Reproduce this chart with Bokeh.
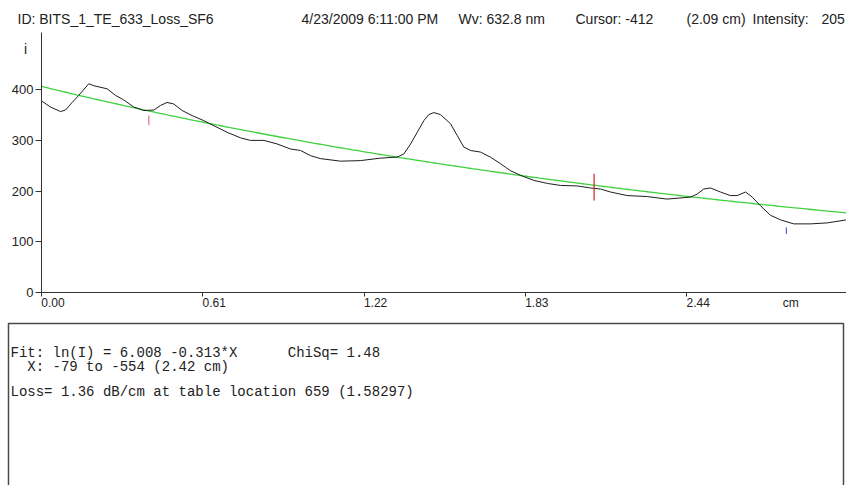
import numpy as np
from bokeh.plotting import figure
from bokeh.models import Range1d, FixedTicker, LinearAxis
from bokeh.core.properties import value
from bokeh.embed import file_html
from bokeh.resources import INLINE

# Measured intensity profile along the waveguide (position in cm, intensity in counts)
position_cm = [0.000, 0.000, 0.034, 0.072, 0.091, 0.116, 0.141, 0.179, 0.198, 0.248,
               0.280, 0.311, 0.349, 0.387, 0.425, 0.450, 0.475, 0.500, 0.532, 0.570,
               0.614, 0.652, 0.702, 0.753, 0.790, 0.841, 0.891, 0.942, 0.980, 1.017,
               1.055, 1.131, 1.206, 1.282, 1.345, 1.370, 1.396, 1.421, 1.446, 1.465,
               1.484, 1.509, 1.547, 1.572, 1.597, 1.623, 1.660, 1.698, 1.736, 1.774,
               1.812, 1.862, 1.913, 1.963, 2.026, 2.076, 2.114, 2.152, 2.215, 2.291,
               2.366, 2.455, 2.480, 2.505, 2.530, 2.568, 2.605, 2.631, 2.663, 2.688,
               2.719, 2.757, 2.795, 2.845, 2.908, 2.972, 3.045]
intensity = [190, 378, 366, 357, 360, 375, 389, 412, 408, 402,
             389, 380, 366, 359, 360, 369, 375, 372, 359, 349,
             339, 329, 316, 305, 300, 300, 293, 283, 280, 270,
             264, 259, 260, 265, 267, 273, 293, 316, 339, 351,
             355, 351, 333, 310, 287, 280, 277, 267, 254, 240,
             231, 221, 215, 211, 210, 206, 204, 198, 191, 189,
             184, 188, 194, 204, 206, 198, 191, 191, 198, 188,
             171, 152, 143, 135, 135, 137, 143]

# Exponential fit ln(I) = A + B*x
FIT_A = 6.008
FIT_B = -0.313
CHI_SQ = 1.48

# Fit range markers (cm) and cursor
range_start_cm = 0.406
range_end_cm = 2.817
cursor_cm = 2.09
cursor_intensity = 205

x_tick_values = [0.0, 0.61, 1.22, 1.83, 2.44]
x_tick_labels = ["0.00", "0.61", "1.22", "1.83", "2.44"]
unit_tick = 2.79
y_tick_values = [0, 100, 200, 300, 400]

header_texts = ["ID: BITS_1_TE_633_Loss_SF6", "4/23/2009 6:11:00 PM", "Wv: 632.8 nm",
                "Cursor: -412", "(2.09 cm)", "Intensity:", "205"]
result_lines = ["Fit: ln(I) = %.3f %.3f*X      ChiSq= %.2f" % (FIT_A, FIT_B, CHI_SQ),
                "  X: -79 to -554 (2.42 cm)",
                "",
                "Loss= 1.36 dB/cm at table location 659 (1.58297)"]

# ---- page geometry (pixels) and the conversion into data space ----
W, H = 846, 485
PX_PER_CM = 264.4
PX_PER_COUNT = 0.506
ORIGIN_X, ORIGIN_Y = 41, 291.7


def to_x(px):
    return (px - ORIGIN_X) / PX_PER_CM


def to_y(py):
    return (ORIGIN_Y - py) / PX_PER_COUNT


X_MAX = to_x(W)
Y_TOP = to_y(32)
LABEL_SHIFT = 11.5 / PX_PER_CM  # tick labels start at their tick

SANS = "Liberation Sans"
MONO = "Liberation Mono"
TXT = "#222222"
AXIS = "#333333"

p = figure(width=W, height=H, x_range=Range1d(to_x(0), to_x(W)), y_range=Range1d(to_y(H), to_y(0)),
           output_backend="svg", toolbar_location=None,
           min_border=0, min_border_left=0, min_border_right=0, min_border_top=0, min_border_bottom=0)
p.background_fill_color = "white"
p.border_fill_color = "white"
p.outline_line_color = None
p.xgrid.visible = False
p.ygrid.visible = False

# y axis drawn at x = 0
yax = p.yaxis[0]
yax.fixed_location = 0
yax.bounds = (0, Y_TOP)
yax.ticker = FixedTicker(ticks=y_tick_values)
yax.major_tick_out = 6
yax.major_tick_in = 0
yax.minor_tick_line_color = None
yax.axis_line_color = AXIS
yax.major_tick_line_color = AXIS
yax.major_label_standoff = 2
yax.major_label_text_font = SANS
yax.major_label_text_font_size = "13px"
yax.major_label_text_color = TXT

# x axis drawn at intensity 0: line and ticks
xax = p.xaxis[0]
xax.fixed_location = 0
xax.bounds = (0, X_MAX)
xax.ticker = FixedTicker(ticks=x_tick_values)
xax.major_tick_out = 4
xax.major_tick_in = 0
xax.minor_tick_line_color = None
xax.axis_line_color = AXIS
xax.major_tick_line_color = AXIS
xax.major_label_overrides = {t: "" for t in x_tick_values}
xax.major_label_text_font_size = "1px"

# x axis tick labels, left-aligned on their ticks
p.extra_x_ranges = {"labels": Range1d(to_x(0) - LABEL_SHIFT, to_x(W) - LABEL_SHIFT)}
lab_ax = LinearAxis(x_range_name="labels", fixed_location=0,
                    ticker=FixedTicker(ticks=x_tick_values + [unit_tick]))
overrides = {t: s for t, s in zip(x_tick_values, x_tick_labels)}
overrides[unit_tick] = "cm"
lab_ax.major_label_overrides = overrides
lab_ax.axis_line_color = None
lab_ax.major_tick_line_color = None
lab_ax.minor_tick_line_color = None
lab_ax.major_tick_out = 0
lab_ax.major_tick_in = 0
lab_ax.major_label_standoff = 4
lab_ax.major_label_text_font = SANS
lab_ax.major_label_text_font_size = "12px"
lab_ax.major_label_text_color = TXT
p.add_layout(lab_ax, "below")

# fit curve
fit_x = np.linspace(0, X_MAX, 300)
fit_y = np.exp(FIT_A + FIT_B * fit_x)
p.line(fit_x, fit_y, line_color="#3fd13f", line_width=1.3)

# measured trace
p.line(position_cm, intensity, line_color="#1e1e1e", line_width=1)

# fit range markers and cursor
p.segment(x0=[range_start_cm], y0=[330], x1=[range_start_cm], y1=[349],
          line_color="#e05070", line_width=1)
p.segment(x0=[range_end_cm], y0=[115], x1=[range_end_cm], y1=[128],
          line_color="#3048c0", line_width=1)
p.segment(x0=[cursor_cm], y0=[cursor_intensity - 24], x1=[cursor_cm], y1=[cursor_intensity + 29],
          line_color="#d02020", line_width=1.2)

# header line
header_px = [17, 301, 458, 575, 686, 752, 821]
p.text(x=[to_x(v) for v in header_px], y=[to_y(18.5)] * len(header_texts), text=header_texts,
       text_font=value(SANS), text_font_size="14px", text_color=TXT,
       text_baseline="middle", text_align="left")
p.text(x=[to_x(25)], y=[to_y(48)], text=["i"],
       text_font=value(SANS), text_font_size="14px", text_color=TXT,
       text_baseline="middle", text_align="center")

# results box
p.quad(left=[to_x(8)], right=[to_x(843)], top=[to_y(323)], bottom=[to_y(H + 10)],
       fill_color="white", line_color="#4a4a4a", line_width=1.5)
line_py = [352, 366, 378, 391]
keep = [i for i, s in enumerate(result_lines) if s]
p.text(x=[to_x(10)] * len(keep), y=[to_y(line_py[i]) for i in keep],
       text=[result_lines[i].replace(" ", "\u00a0") for i in keep],
       text_font=value(MONO), text_font_size="14px", text_color=TXT,
       text_baseline="middle", text_align="left")

open("out.html", "w").write(file_html(p, INLINE))
